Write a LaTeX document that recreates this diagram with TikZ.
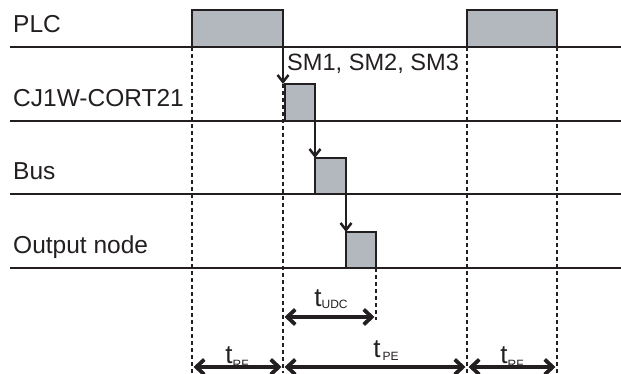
\documentclass[tikz,border=0pt]{standalone}
\usepackage{fontspec}
\setmainfont{Liberation Sans}
\usepackage{xcolor}
\usetikzlibrary{arrows.meta}

\definecolor{ink}{HTML}{231F20}
\definecolor{boxgray}{HTML}{B3B8BF}
\newcommand{\subtxt}[2]{\raisebox{-#1pt}{\fontsize{12}{13}\selectfont #2}}

\begin{document}
\begin{tikzpicture}[x=1pt, y=-1pt]
    % styles
    \tikzstyle{lane}=[draw=ink, line width=2.4pt]
    \tikzstyle{pulse}=[
      draw=ink,
      fill=boxgray,
      line width=2.4pt,
      rectangle,
      anchor=south west,
      inner sep=0pt,
      outer sep=0pt
    ]
    \tikzstyle{lbl}=[anchor=base west, inner sep=0pt, text=ink, font=\fontsize{24.5}{28}\selectfont]
    \tikzstyle{tlbl}=[anchor=base, inner sep=0pt, text=ink, font=\fontsize{26}{28}\selectfont]
    \tikzstyle{sig}=[draw=ink, line width=2.5pt, -{Straight Barb[length=7pt, width=11pt]}]
    \tikzstyle{guide}=[draw=ink, line width=2.5pt, dash pattern=on 4pt off 3pt]
    \tikzstyle{span}=[draw=ink, line width=3.8pt, shorten <=1.5pt, shorten >=1.5pt,
      {Straight Barb[length=8pt, width=15pt]}-{Straight Barb[length=8pt, width=15pt]}]

    \useasboundingbox (0,0) rectangle (621,374);

    % Lanes
    \foreach \nm/\y in {plc/47, cj/121, bus/194, out/268} {
      \coordinate (\nm-l) at (10,\y);
      \coordinate (\nm-r) at (621,\y);
      \draw[lane] (\nm-l) -- (\nm-r);
    }

    % Lane names
    \node[lbl] (plcLbl) at (13,33) {PLC};
    \node[lbl] (cjLbl) at (13,107) {CJ1W-CORT21};
    \node[lbl] (busLbl) at (13,180) {Bus};
    \node[lbl] (outLbl) at (13,254) {Output node};

    % Pulses
    \node[pulse, minimum width=91pt, minimum height=37pt] (plcA) at (192,47) {};
    \node[pulse, minimum width=90pt, minimum height=37pt] (plcB) at (467,47) {};
    \node[pulse, minimum width=30pt, minimum height=37pt] (cjA) at (285,121) {};
    \node[pulse, minimum width=31pt, minimum height=36pt] (busA) at (315,194) {};
    \node[pulse, minimum width=30pt, minimum height=36pt] (outA) at (346,268) {};

    % Levels for the guides and spans
    \coordinate (bot) at (0,373);
    \coordinate (udcY) at (0,317);
    \coordinate (udcEnd) at (0,320);
    \coordinate (spanY) at (0,367);

    % Dotted guides
    \draw[guide] (plcA.south west) -- (plcA.south west |- bot);
    \draw[guide, line width=1.8pt] (plcA.south east |- cjA.north) -- (plcA.south east |- bot);
    \draw[guide] (plcB.south west) -- (plcB.south west |- bot);
    \draw[guide, line width=2.2pt] (plcB.south east) -- (plcB.south east |- bot);
    \draw[guide, line width=2pt] (outA.south east) -- (outA.south east |- udcEnd);

    % Signal arrows
    \draw[sig] (plcA.south east) -- (plcA.south east |- cjA.north);
    \draw[sig] (cjA.south east) -- (cjA.south east |- busA.north);
    \draw[sig] (busA.south east) -- (busA.south east |- outA.north);
    \node[lbl, font=\fontsize{23.6}{28}\selectfont] (smLbl) at (287,71) {SM1, SM2, SM3};

    % Time labels
    \node[tlbl] (udcLbl) at (331,306) {t\subtxt{2}{UDC}};
    \node[tlbl] (rfALbl) at (237,363) {t\subtxt{5}{RF}};
    \node[tlbl] (peLbl) at (386,357) {t\hspace{2pt}\subtxt{3}{PE}};
    \node[tlbl] (rfBLbl) at (512,363) {t\subtxt{5}{RF}};

    % Time spans
    \draw[span] (plcA.south east |- udcY) -- (outA.south east |- udcY);
    \draw[span] (plcA.south west |- spanY) -- (plcA.south east |- spanY);
    \draw[span] (plcA.south east |- spanY) -- (plcB.south west |- spanY);
    \draw[span] (plcB.south west |- spanY) -- (plcB.south east |- spanY);
  \end{tikzpicture}
\end{document}
